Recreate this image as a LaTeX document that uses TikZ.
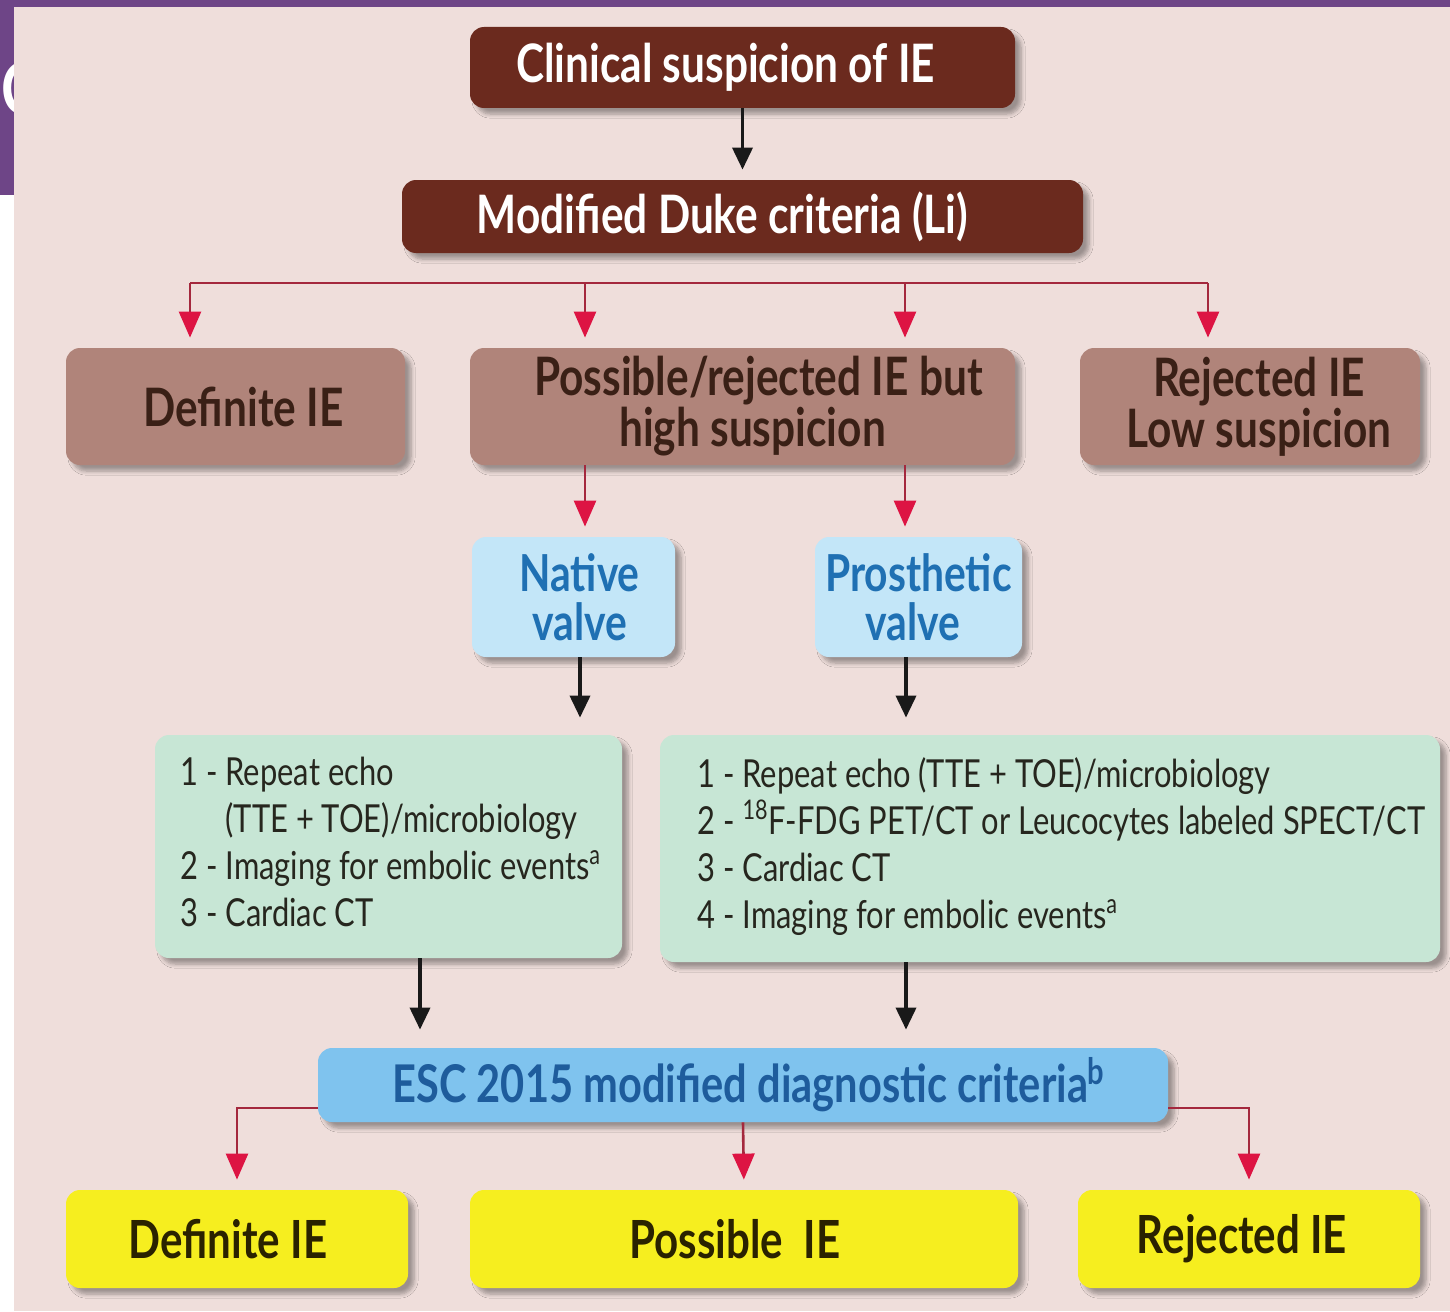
\documentclass[tikz,border=0pt]{standalone}
\usepackage{fontspec}
\setmainfont{Lato}[FakeStretch=0.8]
\usetikzlibrary{arrows.meta,shadows.blur,calc}
\definecolor{bgpink}{HTML}{EFDEDB}
\definecolor{cpurp}{HTML}{6E4587}
\definecolor{cbrown}{HTML}{6B2A1E}
\definecolor{ctan}{HTML}{B0847A}
\definecolor{ctantext}{HTML}{3A2016}
\definecolor{clblue}{HTML}{C3E6F8}
\definecolor{cbluetext}{HTML}{1F70B3}
\definecolor{clgreen}{HTML}{C7E6D5}
\definecolor{cgreentext}{HTML}{26261E}
\definecolor{cesc}{HTML}{7FC3EE}
\definecolor{cesctext}{HTML}{1E5C9C}
\definecolor{cyel}{HTML}{F6EE1F}
\definecolor{cyeltext}{HTML}{2A2200}
\definecolor{credline}{HTML}{A4283D}
\definecolor{credhead}{HTML}{DD1443}
\begin{document}
\begin{tikzpicture}[x=0.5pt,y=-0.5pt,
  box/.style={rounded corners=7pt, inner sep=0pt, align=center,
    blur shadow={shadow xshift=3pt, shadow yshift=-3pt, shadow blur steps=6, shadow opacity=35}},
  titlebox/.style={box, fill=cbrown, text=white, font=\bfseries\fontsize{26.5}{24}\selectfont},
  tanbox/.style={box, fill=ctan, text=ctantext, minimum height=58.5pt, font=\bfseries\fontsize{26.5}{24}\selectfont},
  valvebox/.style={box, fill=clblue, text=cbluetext, minimum height=60pt, font=\bfseries\fontsize{25.5}{24.5}\selectfont},
  greenbox/.style={box, fill=clgreen},
  listtext/.style={inner sep=0pt, align=left, text=cgreentext, font=\fontsize{19.3}{23.5}\selectfont},
  escbox/.style={box, fill=cesc, text=cesctext, font=\bfseries\fontsize{26}{24}\selectfont},
  yelbox/.style={box, fill=cyel, text=cyeltext, minimum height=49pt, font=\bfseries\fontsize{26.3}{24}\selectfont},
  blk/.style={line width=1.8pt, draw=black!90, -{Triangle[width=10pt,length=11pt]}},
  redl/.style={line width=1.3pt, draw=credline},
  reda/.style={redl, -{Triangle[width=11pt,length=13pt,color=credhead]}, shorten >=5pt}
]
\useasboundingbox (0,0) rectangle (1450,1311);
\fill[white] (0,0) rectangle (1450,1311);
\fill[cpurp] (0,0) rectangle (1450,7);
\fill[cpurp] (0,0) rectangle (14,195);
\node[anchor=west, inner sep=0pt, text=white, font=\bfseries\fontsize{36}{36}\selectfont] (cc) at (1,88) {C};
\fill[bgpink] (14,7) rectangle (1450,1311);

% boxes
\node[titlebox, minimum width=272.5pt, minimum height=40.5pt] (n1) at (742.5,67.5) {Clinical suspicion of IE\hspace*{17pt}};
\node[titlebox, minimum width=340.5pt, minimum height=36.5pt] (n2) at (742.5,216.5) {Modified Duke criteria (Li)\hspace*{20pt}};
\node[tanbox, minimum width=169.5pt] (r1) at (235.5,406.5) {\hspace*{8pt}Definite IE};
\node[tanbox, minimum width=272.5pt] (r2) at (742.5,406.5) {\hspace*{16pt}Possible/rejected IE but\\\hspace*{10pt}high suspicion};
\node[tanbox, minimum width=170pt] (r3) at (1250,406.5) {\hspace*{9pt}Rejected IE\\\hspace*{9pt}Low suspicion};
\node[valvebox, minimum width=101.5pt] (nv) at (573.5,597) {\hspace*{6pt}Native\\\hspace*{6pt}valve};
\node[valvebox, minimum width=103.5pt] (pv) at (918.5,597) {Prosthetic\\\hspace*{-6pt}valve};
\node[greenbox, minimum width=233.5pt, minimum height=111.5pt] (gl) at (388.5,846.5) {};
\node[greenbox, minimum width=390pt, minimum height=113.5pt] (gr) at (1050,848.5) {};
\node[listtext, anchor=north west] (tl) at (180,757) {1 - Repeat echo\\\phantom{1 - }(TTE + TOE)/microbiology\\2 - Imaging for embolic events\textsuperscript{a}\\3 - Cardiac CT};
\node[listtext, anchor=north west] (tr) at (697,757) {1 - Repeat echo (TTE + TOE)/microbiology\\2 - \textsuperscript{18}F-FDG PET/CT or Leucocytes labeled SPECT/CT\\3 - Cardiac CT\\4 - Imaging for embolic events\textsuperscript{a}};
\node[escbox, minimum width=425pt, minimum height=37pt] (esc) at (743,1085) {\hspace*{6pt}ESC 2015 modified diagnostic criteria\textsuperscript{b}};
\node[yelbox, minimum width=171pt] (ya) at (237,1239) {Definite IE\hspace*{9pt}};
\node[yelbox, minimum width=274pt] (yb) at (744,1239) {Possible\ \ IE\hspace*{9pt}};
\node[yelbox, minimum width=171pt] (yc) at (1249,1239) {Rejected IE\hspace*{7pt}};

% connectors
\draw[blk, shorten >=5pt] (n1) -- (n2);
\coordinate (h1) at (190,283);
\coordinate (h2) at (585,283);
\coordinate (h3) at (905,283);
\coordinate (h4) at (1208,283);
\draw[redl] (h1) -- (h4);
\draw[reda] (h1) -- (h1 |- r1.north);
\draw[reda] (h2) -- (h2 |- r2.north);
\draw[reda] (h3) -- (h3 |- r2.north);
\draw[reda] (h4) -- (h4 |- r3.north);
\draw[reda] (r2.south -| h2) -- (nv.north -| h2);
\draw[reda] (r2.south -| h3) -- (pv.north -| h3);
\coordinate (v1) at (580,0);
\coordinate (v2) at (906,0);
\coordinate (g1) at (420,0);
\draw[blk, shorten >=8.5pt] (nv.south -| v1) -- (gl.north -| v1);
\draw[blk, shorten >=8.5pt] (pv.south -| v2) -- (gr.north -| v2);
\draw[blk, shorten >=9pt] (gl.south -| g1) -- (esc.north -| g1);
\draw[blk, shorten >=9pt] (gr.south -| v2) -- (esc.north -| v2);
\coordinate (ey) at (0,1108);
\draw[reda] (esc.west |- ey) -| (ya.north);
\draw[reda] (esc.south) -- (yb.north);
\draw[reda] (esc.east |- ey) -| (yc.north);
\end{tikzpicture}
\end{document}
